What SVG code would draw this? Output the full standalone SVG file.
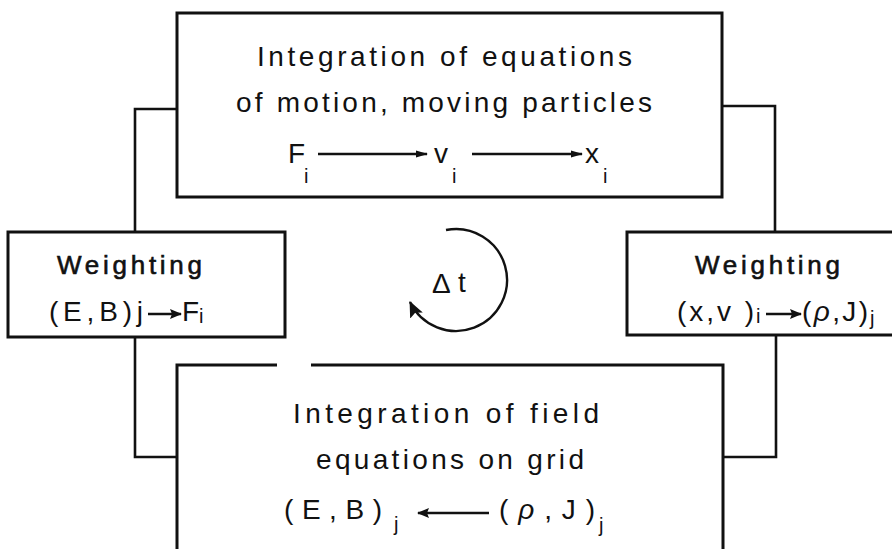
<svg xmlns="http://www.w3.org/2000/svg" width="892" height="549" viewBox="0 0 892 549">
<style>
.box{fill:none;stroke:#111;stroke-width:3;stroke-linejoin:miter}
.con{fill:none;stroke:#111;stroke-width:2.6}
.t{font-family:"Liberation Sans","DejaVu Sans",sans-serif;font-size:28px;fill:#111}
.w{font-family:"Liberation Sans","DejaVu Sans",sans-serif;font-size:26px;fill:#111;stroke:#111;stroke-width:0.6}
.s{font-family:"Liberation Sans","DejaVu Sans",sans-serif;font-size:20px;fill:#111}
.ar{fill:none;stroke:#111;stroke-width:2.4}
</style>
<defs>
<marker id="ah" viewBox="0 0 12 8" refX="11" refY="4" markerWidth="12" markerHeight="8" markerUnits="userSpaceOnUse" orient="auto">
<path d="M0,0.5 L12,4 L0,7.5 Z" fill="#111"/>
</marker>
<marker id="ahs" viewBox="0 0 12 10" refX="11" refY="5" markerWidth="12" markerHeight="10" markerUnits="userSpaceOnUse" orient="auto">
<path d="M0,0 L12,5 L0,10 L2,5 Z" fill="#111"/>
</marker>
<marker id="ahc" viewBox="0 0 16 14" refX="15" refY="7" markerWidth="16" markerHeight="14" markerUnits="userSpaceOnUse" orient="auto">
<path d="M0,0 L16,7 L0,14 L3,7 Z" fill="#111"/>
</marker>
</defs>

<g id="connectors">
<path class="con" d="M177,109 H135 V233"/>
<path class="con" d="M135,337 V457 H177"/>
<path class="con" d="M722,106 H775 V232"/>
<path class="con" d="M776,335 V457 H722"/>
</g>

<g id="particles">
<rect class="box" x="177" y="13" width="545" height="184"/>
<text class="t" x="257" y="66" textLength="375" lengthAdjust="spacing">Integration of equations</text>
<text class="t" x="236" y="112" textLength="416" lengthAdjust="spacing">of motion, moving particles</text>
<text class="t" x="288" y="163">F</text>
<text class="s" x="304" y="183">i</text>
<line class="ar" x1="318" y1="154" x2="427" y2="154" marker-end="url(#ah)"/>
<text class="t" x="434" y="163">v</text>
<text class="s" x="452" y="183">i</text>
<line class="ar" x1="472" y1="154" x2="582" y2="154" marker-end="url(#ah)"/>
<text class="t" x="585" y="163">x</text>
<text class="s" x="603" y="183">i</text>
</g>

<g id="weighting-left">
<rect class="box" x="8" y="232" width="277" height="105"/>
<text class="w" x="57" y="274" textLength="145" lengthAdjust="spacing">Weighting</text>
<text class="t" x="49" y="321" textLength="94" lengthAdjust="spacing">(E,B)j</text>
<line class="ar" x1="148" y1="314" x2="181" y2="314" marker-end="url(#ahs)"/>
<text class="t" x="182" y="321">F</text>
<text class="s" x="199" y="323">i</text>
</g>

<g id="weighting-right">
<rect class="box" x="627" y="232" width="280" height="103"/>
<text class="w" x="695" y="274" textLength="145" lengthAdjust="spacing">Weighting</text>
<text class="t" x="677" y="321" textLength="77" lengthAdjust="spacing">(x,v )</text>
<text class="s" x="756" y="323">i</text>
<line class="ar" x1="766" y1="314" x2="801" y2="314" marker-end="url(#ahs)"/>
<text class="t" x="802" y="321" textLength="66" lengthAdjust="spacing">(<tspan font-style="italic">ρ</tspan>,J)</text>
<text class="s" x="870" y="325">j</text>
</g>

<g id="timestep">
<path class="ar" d="M446,230 A51,51 0 1 1 410,302" marker-end="url(#ahc)"/>
<text class="t" x="432" y="293">Δ</text>
<text class="t" x="458" y="292">t</text>
</g>

<g id="fields">
<path class="box" d="M277,365 H177 V560 M311,365 H723 V560"/>
<text class="t" x="293" y="423" textLength="306" lengthAdjust="spacing">Integration of field</text>
<text class="t" x="316" y="469" textLength="268" lengthAdjust="spacing">equations on grid</text>
<text class="t" x="284" y="519" textLength="98" lengthAdjust="spacing">( E , B )</text>
<text class="s" x="394" y="531">j</text>
<line class="ar" x1="489" y1="513" x2="418" y2="513" marker-end="url(#ahs)"/>
<text class="t" x="499" y="519" textLength="96" lengthAdjust="spacing">( <tspan font-style="italic">ρ</tspan> , J )</text>
<text class="s" x="599" y="532">j</text>
</g>
</svg>
